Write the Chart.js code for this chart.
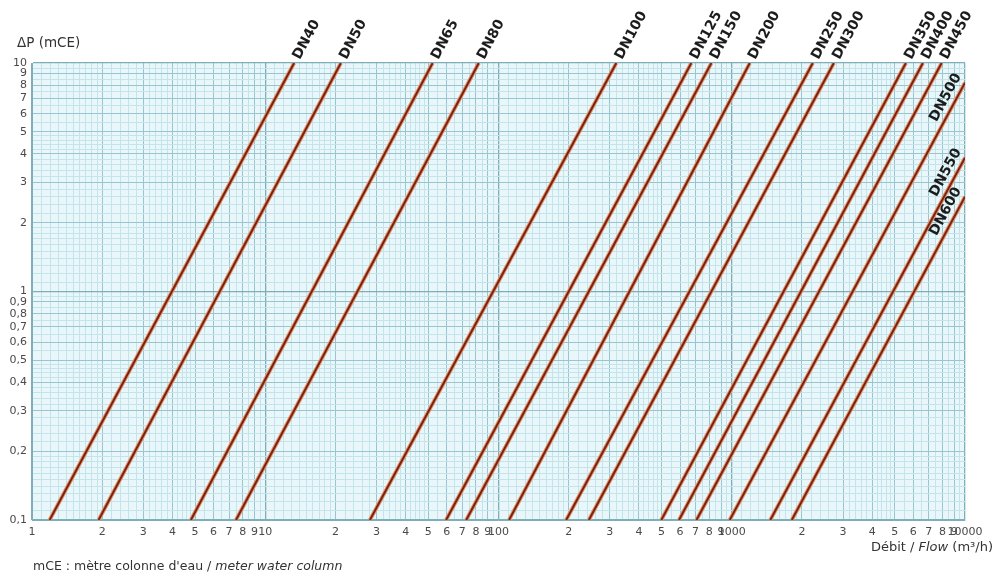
<!DOCTYPE html>
<html>
<head>
<meta charset="utf-8">
<script src="https://cdn.jsdelivr.net/npm/chart.js@4/dist/chart.umd.min.js"></script>
<style>
    body { margin: 0; background: #fff; }
    #wrap { position: relative; width: 1000px; height: 583px; font-family: "DejaVu Sans", Arial, sans-serif; color: #333; }
    #chart { position: absolute; left: 0; top: 0; }
    .cap { position: absolute; white-space: nowrap; }
    #yTitle { left: 17px; top: 34px; font-size: 13.5px; }
    #xTitle { right: 7px; top: 539px; font-size: 13px; }
    #note { left: 33px; top: 558px; font-size: 12.5px; }
</style>
</head>
<body>
<div id="wrap">
    <canvas id="chart" width="1000" height="583"></canvas>
    <div class="cap" id="yTitle">ΔP (mCE)</div>
    <div class="cap" id="xTitle">Débit / <i>Flow</i> (m³/h)</div>
    <div class="cap" id="note">mCE : mètre colonne d'eau / <i>meter water column</i></div>
</div>
<script>
// Pressure loss curves per valve size
const dnLabels = ['DN40', 'DN50', 'DN65', 'DN80', 'DN100', 'DN125', 'DN150', 'DN200',
    'DN250', 'DN300', 'DN350', 'DN400', 'DN450', 'DN500', 'DN550', 'DN600'];
// flow (m3/h) where each line starts, at ΔP = 0.1 mCE
const flowAtLow = [1.19, 1.93, 4.8, 7.49, 28.1, 59.6, 72.7, 111, 195, 244, 499, 594, 706, 980, 1463, 1809];
// flow (m3/h) and ΔP (mCE) where each line ends
const flowAtHigh = [13.3, 21.1, 52.2, 82.3, 320, 671, 818, 1195, 2226, 2740, 5580, 6600, 7940, 10000, 10000, 10000];
const lossAtHigh = [10, 10, 10, 10, 10, 10, 10, 10, 10, 10, 10, 10, 10, 8.2, 3.85, 2.6];
const lossAtLow = 0.1;

// axis ranges and labelled decades
const xDecades = [1, 10, 100, 1000, 10000];
const yDecades = [0.1, 1, 10];

const coreColor = '#7a2216';
const haloColor = '#e8976a';
const tickFont = { family: '"DejaVu Sans", Arial, sans-serif', size: 11 };

function mantissaOf(v) {
    const e = Math.floor(Math.log10(v) + 1e-9);
    return Math.round(v / Math.pow(10, e) * 1000) / 1000;
}

// log paper: fine lines every 0.1 (1-2), 0.2 (2-5), 0.5 (5-10)
function logPaperTicks(decades) {
    const ticks = [];
    for (let d = 0; d < decades.length - 1; d++) {
        const base = decades[d];
        for (let m = 10; m < 100; m += (m < 20 ? 1 : m < 50 ? 2 : 5)) {
            ticks.push({ value: parseFloat((base * m / 10).toPrecision(6)) });
        }
    }
    ticks.push({ value: decades[decades.length - 1] });
    return ticks;
}

function gridColor(ctx) {
    if (!ctx.tick) return '#c4e6ec';
    const m = mantissaOf(ctx.tick.value);
    if (m === 1) return '#7eaeb9';
    if (Number.isInteger(m)) return '#98c6d0';
    return '#c2e4ea';
}

function gridWidth(ctx) {
    if (!ctx.tick) return 1;
    return mantissaOf(ctx.tick.value) === 1 ? 1.3 : 1;
}

const datasets = [];
dnLabels.forEach((name, i) => {
    const points = [
        { x: flowAtLow[i], y: lossAtLow },
        { x: flowAtHigh[i], y: lossAtHigh[i] }
    ];
    datasets.push({ label: name, data: points, borderColor: coreColor, borderWidth: 2, order: 0, pointRadius: 0 });
    datasets.push({ label: name + '-halo', data: points, borderColor: haloColor, borderWidth: 4, order: 1, pointRadius: 0 });
});

const areaBackground = {
    id: 'areaBackground',
    beforeDraw(chart) {
        const { ctx, chartArea: a } = chart;
        ctx.save();
        ctx.fillStyle = '#e9f7fa';
        ctx.fillRect(a.left, a.top, a.right - a.left, a.bottom - a.top);
        ctx.restore();
    }
};

const dnNames = {
    id: 'dnNames',
    afterDatasetsDraw(chart) {
        const ctx = chart.ctx;
        ctx.save();
        ctx.font = 'bold 14px "DejaVu Sans", Arial, sans-serif';
        ctx.fillStyle = '#1c1c1c';
        ctx.textBaseline = 'middle';
        dnLabels.forEach((name, i) => {
            const pts = chart.getDatasetMeta(i * 2).data;
            const p0 = pts[0], p1 = pts[1];
            const angle = Math.atan2(p1.y - p0.y, p1.x - p0.x);
            ctx.save();
            ctx.translate(p1.x, p1.y);
            ctx.rotate(angle);
            if (lossAtHigh[i] >= 10) {
                ctx.textAlign = 'left';
                ctx.fillText(name, 5, 0);
            } else {
                ctx.textAlign = 'right';
                ctx.fillText(name, 4, -10);
            }
            ctx.restore();
        });
        ctx.restore();
    }
};

new Chart(document.getElementById('chart'), {
    type: 'line',
    data: { datasets },
    options: {
        responsive: false,
        animation: false,
        layout: { padding: { top: 63, right: 35, bottom: 43, left: 0 } },
        plugins: { legend: { display: false }, tooltip: { enabled: false } },
        scales: {
            x: {
                type: 'logarithmic',
                min: xDecades[0],
                max: xDecades[xDecades.length - 1],
                afterBuildTicks: scale => { scale.ticks = logPaperTicks(xDecades); },
                afterFit: scale => { scale.height = 20; },
                grid: { color: gridColor, lineWidth: gridWidth, drawTicks: false },
                border: { color: '#7eaeb9' },
                ticks: {
                    autoSkip: false,
                    maxRotation: 0,
                    padding: 6,
                    color: '#4a4a4a',
                    font: tickFont,
                    callback: value => {
                        const m = mantissaOf(value);
                        if (!Number.isInteger(m)) return '';
                        return m === 1 ? String(Math.round(value)) : String(m);
                    }
                }
            },
            y: {
                type: 'logarithmic',
                min: yDecades[0],
                max: yDecades[yDecades.length - 1],
                afterBuildTicks: scale => { scale.ticks = logPaperTicks(yDecades); },
                afterFit: scale => { scale.width = 32; },
                grid: { color: gridColor, lineWidth: gridWidth, drawTicks: false },
                border: { color: '#7eaeb9' },
                ticks: {
                    autoSkip: false,
                    padding: 5,
                    color: '#4a4a4a',
                    font: tickFont,
                    callback: value => {
                        const m = mantissaOf(value);
                        if (!Number.isInteger(m)) return '';
                        return String(parseFloat(value.toPrecision(6))).replace('.', ',');
                    }
                }
            }
        }
    },
    plugins: [areaBackground, dnNames]
});
</script>
</body>
</html>
